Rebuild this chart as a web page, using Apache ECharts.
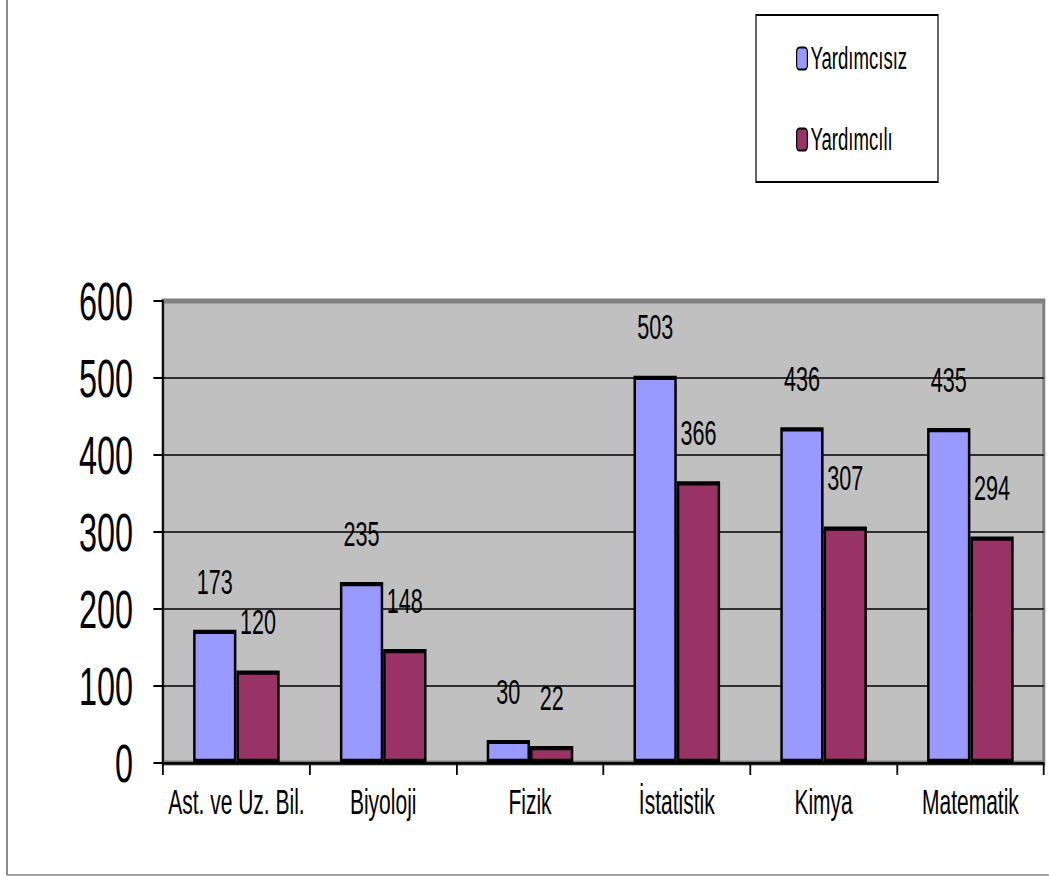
<!DOCTYPE html>
<html>
<head>
<meta charset="utf-8">
<script src="https://cdn.jsdelivr.net/npm/echarts@6/dist/echarts.min.js"></script>
<style>
  html, body { margin: 0; padding: 0; background: #fff; overflow: hidden; }
  /* original picture is horizontally squeezed, so draw wide and squeeze */
  #chart { width: 1748px; height: 876px; transform: scaleX(0.6); transform-origin: 0 0; }
</style>
</head>
<body>
<div id="chart"></div>
<script>
const SX = 0.6;
const FONT = '"Liberation Sans", Arial, sans-serif';

const categories = ["Ast. ve Uz. Bil.", "Biyoloji", "Fizik", "İstatistik", "Kimya", "Matematik"];
const yardimcisiz = [173, 235, 30, 503, 436, 435];
const yardimcili = [120, 148, 22, 366, 307, 294];
const yTicks = { min: 0, max: 600, interval: 100 };

// final-pixel x -> unscaled x
const ux = (x) => x / SX;

const myChart = echarts.init(document.getElementById("chart"), null, { renderer: "svg" });

const barLabel = {
  show: true,
  position: "top",
  distance: 31,
  color: "#000",
  fontFamily: FONT,
  fontSize: 36,
};

let option = {
  backgroundColor: "#fff",
  animation: false,
  grid: {
    left: ux(163),
    right: ux(1049 - 1044),
    top: 301,
    bottom: 876 - 763,
    show: true,
    backgroundColor: "#c0c0c0",
    borderColor: "#808080",
    borderWidth: 5,
  },
  legend: {
    orient: "vertical",
    left: ux(793),
    top: 38,
    itemWidth: 18,
    itemHeight: 22,
    itemGap: 50,
    textStyle: { color: "#000", fontFamily: FONT, fontSize: 31, lineHeight: 22 },
    data: ["Yardımcısız", "Yardımcılı"],
  },
  xAxis: {
    type: "category",
    data: categories,
    axisLine: { lineStyle: { color: "#000", width: 2.5 } },
    axisTick: { show: true, length: 12, lineStyle: { color: "#000", width: 3 } },
    axisLabel: { color: "#000", fontFamily: FONT, fontSize: 35, margin: 21, interval: 0 },
  },
  yAxis: {
    type: "value",
    min: yTicks.min,
    max: yTicks.max,
    interval: yTicks.interval,
    axisLine: { show: true, lineStyle: { color: "#000", width: 3 } },
    axisTick: { show: true, length: 16, lineStyle: { color: "#000", width: 2 } },
    axisLabel: { color: "#000", fontFamily: FONT, fontSize: 54, margin: 50 },
    splitLine: { showMaxLine: false, lineStyle: { color: "#000", width: 1.6 } },
  },
  series: [
    {
      name: "Yardımcısız",
      type: "bar",
      data: yardimcisiz,
      barGap: "0%",
      barCategoryGap: "41%",
      itemStyle: { color: "#9999ff", borderColor: "#000", borderWidth: 4.2 },
      label: barLabel,
    },
    {
      name: "Yardımcılı",
      type: "bar",
      data: yardimcili,
      itemStyle: { color: "#993366", borderColor: "#000", borderWidth: 4.2 },
      label: barLabel,
    },
  ],
  graphic: [
    // legend box
    {
      type: "rect",
      shape: { x: ux(756), y: 15, width: ux(182), height: 167 },
      style: { fill: "transparent", stroke: "#000", lineWidth: 2 },
      z: 0,
    },
    // outer frame, left and bottom
    {
      type: "line",
      shape: { x1: ux(7), y1: 0, x2: ux(7), y2: 875 },
      style: { stroke: "#808080", lineWidth: 3 },
    },
    {
      type: "line",
      shape: { x1: ux(7), y1: 875, x2: ux(1049), y2: 875 },
      style: { stroke: "#808080", lineWidth: 1.5 },
    },
  ],
};

myChart.setOption(option);
</script>
</body>
</html>
